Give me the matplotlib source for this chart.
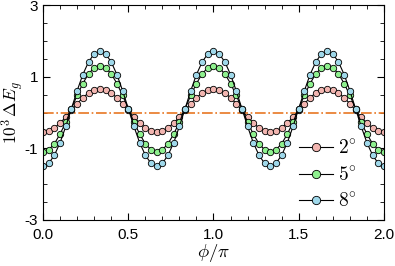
import matplotlib
matplotlib.use('Agg')
import matplotlib.pyplot as plt
from matplotlib.ticker import MultipleLocator, FormatStrFormatter
import numpy as np

plt.rcParams['font.family'] = ['Liberation Sans', 'DejaVu Sans']
plt.rcParams['mathtext.fontset'] = 'cm'
plt.rcParams['axes.unicode_minus'] = False

# phi/pi sampled every 1/30
phi = np.arange(61) / 30

# 10^3 dE_g, one list per tilt angle
e2 = [-0.54, -0.51, -0.43, -0.29, -0.13, 0.06, 0.25, 0.41, 0.55, 0.63, 0.66,
      0.63, 0.55, 0.41, 0.25, 0.06, -0.13, -0.29, -0.43, -0.51, -0.54,
      -0.51, -0.43, -0.29, -0.13, 0.06, 0.25, 0.41, 0.55, 0.63, 0.66,
      0.63, 0.55, 0.41, 0.25, 0.06, -0.13, -0.29, -0.43, -0.51, -0.54,
      -0.51, -0.43, -0.29, -0.13, 0.06, 0.25, 0.41, 0.55, 0.63, 0.66,
      0.63, 0.55, 0.41, 0.25, 0.06, -0.13, -0.29, -0.43, -0.51, -0.54]
e5 = [-1.10, -1.04, -0.87, -0.60, -0.27, 0.11, 0.48, 0.81, 1.08, 1.25, 1.31,
      1.25, 1.08, 0.81, 0.48, 0.11, -0.27, -0.60, -0.87, -1.04, -1.10,
      -1.04, -0.87, -0.60, -0.27, 0.11, 0.48, 0.81, 1.08, 1.25, 1.31,
      1.25, 1.08, 0.81, 0.48, 0.11, -0.27, -0.60, -0.87, -1.04, -1.10,
      -1.04, -0.87, -0.60, -0.27, 0.11, 0.48, 0.81, 1.08, 1.25, 1.31,
      1.25, 1.08, 0.81, 0.48, 0.11, -0.27, -0.60, -0.87, -1.04, -1.10]
e8 = [-1.50, -1.42, -1.19, -0.84, -0.39, 0.11, 0.61, 1.06, 1.41, 1.64, 1.72,
      1.64, 1.41, 1.06, 0.61, 0.11, -0.39, -0.84, -1.19, -1.42, -1.50,
      -1.42, -1.19, -0.84, -0.39, 0.11, 0.61, 1.06, 1.41, 1.64, 1.72,
      1.64, 1.41, 1.06, 0.61, 0.11, -0.39, -0.84, -1.19, -1.42, -1.50,
      -1.42, -1.19, -0.84, -0.39, 0.11, 0.61, 1.06, 1.41, 1.64, 1.72,
      1.64, 1.41, 1.06, 0.61, 0.11, -0.39, -0.84, -1.19, -1.42, -1.50]

series = [(e2, '#f2b5b0', r'$2^{\circ}$'),
          (e5, '#8ef08e', r'$5^{\circ}$'),
          (e8, '#9fd8ea', r'$8^{\circ}$')]

fig = plt.figure(figsize=(3.95, 2.66), dpi=100)
ax = fig.add_axes([0.109, 0.173, 0.863, 0.808])

ax.axhline(0, color='#e87722', lw=1.2, ls='-.')

for y, c, lab in series:
    ax.plot(phi, y, '-o', color='black', lw=0.8, ms=4.6, mfc=c,
            mec='black', mew=0.6, label=lab)

ax.set_xlim(0, 2)
ax.set_ylim(-3, 3)
ax.xaxis.set_major_locator(MultipleLocator(0.5))
ax.xaxis.set_minor_locator(MultipleLocator(0.1))
ax.yaxis.set_minor_locator(MultipleLocator(0.5))
ax.set_yticks([-3, -1, 1, 3])
ax.tick_params(which='both', direction='in', top=True, right=True, labelsize=11)
ax.tick_params(which='major', length=5)
ax.tick_params(which='minor', length=3)
ax.tick_params(axis='x', pad=6)
ax.xaxis.set_major_formatter(FormatStrFormatter('%.1f'))

ax.set_xlabel(r'$\phi/\pi$', fontsize=13.5, labelpad=0)
ax.set_ylabel(r'$10^3\,\Delta E_g$', fontsize=12.5)
ax.yaxis.set_label_coords(-0.05, 0.5)

leg = ax.legend(loc='lower right', bbox_to_anchor=(0.97, -0.04), frameon=False,
                fontsize=14, handlelength=1.75, markerscale=1.3,
                labelspacing=0.42, handletextpad=0.25, borderpad=0.4)

fig.savefig('out.png', dpi=100)
